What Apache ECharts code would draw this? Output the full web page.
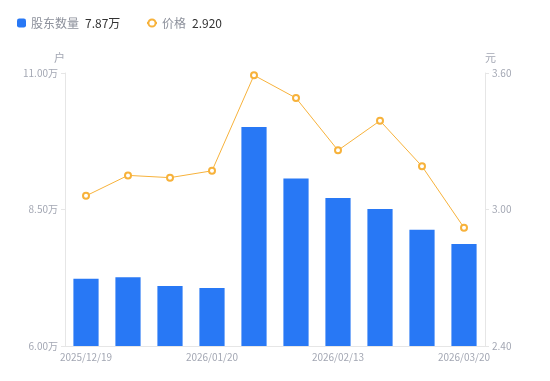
<!DOCTYPE html>
<html>
<head>
<meta charset="utf-8">
<script src="https://cdn.jsdelivr.net/npm/echarts@6/dist/echarts.min.js"></script>
<style>
html,body{margin:0;padding:0;background:#fff;}
#chart{width:550px;height:381px;}
</style>
</head>
<body>
<div id="chart"></div>
<script>
var categories = ['2025/12/19','2025/12/31','2026/01/09','2026/01/20','2026/01/30','2026/02/06','2026/02/13','2026/02/27','2026/03/10','2026/03/20'];
var holders = [7.23, 7.26, 7.10, 7.06, 10.01, 9.07, 8.71, 8.51, 8.13, 7.87];
var prices = [3.06, 3.15, 3.14, 3.17, 3.59, 3.49, 3.26, 3.39, 3.19, 2.92];
var leftTicks = [6.00, 8.50, 11.00];
var rightTicks = [2.40, 3.00, 3.60];

var FONT = '"Noto Sans CJK SC", "Noto Sans", sans-serif';
var chart = echarts.init(document.getElementById('chart'));
var axisLabelColor = '#a3a7b3';
var lineColor = '#e6e6e6';

chart.setOption({
  animation: false,
  textStyle: { fontFamily: FONT },
  legend: [{
    data: ['股东数量'],
    left: 17, top: 17, padding: 0,
    itemWidth: 9, itemHeight: 9,
    icon: 'roundRect',
    textStyle: {
      fontFamily: FONT,
      rich: {
        n: { color: '#8c909b', fontSize: 12, fontFamily: FONT },
        v: { color: '#333', fontSize: 12, fontFamily: FONT, padding: [0, 0, 0, 6] }
      }
    },
    formatter: function (name) { return '{n|' + name + '}{v|' + holders[holders.length - 1].toFixed(2) + '万}'; }
  }, {
    data: ['价格'],
    left: 146, top: 17, padding: 0,
    itemWidth: 10, itemHeight: 9,
    textStyle: {
      fontFamily: FONT,
      rich: {
        n: { color: '#8c909b', fontSize: 12, fontFamily: FONT },
        v: { color: '#333', fontSize: 12, fontFamily: FONT, padding: [0, 0, 0, 6] }
      }
    },
    formatter: function (name) { return '{n|' + name + '}{v|' + prices[prices.length - 1].toFixed(3) + '}'; }
  }],
  grid: { left: 65, right: 65, top: 73, bottom: 35, containLabel: false },
  xAxis: {
    type: 'category',
    data: categories,
    boundaryGap: true,
    axisLine: { lineStyle: { color: lineColor } },
    axisTick: { show: false },
    axisLabel: {
      color: axisLabelColor, fontSize: 10, margin: 6,
      interval: 2, fontFamily: FONT
    }
  },
  yAxis: [{
    type: 'value',
    name: '户',
    nameGap: 10,
    nameTextStyle: { color: axisLabelColor, fontSize: 11, align: 'right' },
    min: leftTicks[0], max: leftTicks[2], interval: leftTicks[1] - leftTicks[0],
    axisLine: { show: true, lineStyle: { color: lineColor } },
    axisTick: { show: true, length: 4, lineStyle: { color: lineColor } },
    splitLine: { show: false },
    axisLabel: {
      color: axisLabelColor, fontSize: 10, margin: 7, fontFamily: FONT,
      formatter: function (v) { return v.toFixed(2) + '万'; }
    }
  }, {
    type: 'value',
    name: '元',
    nameGap: 10,
    nameTextStyle: { color: axisLabelColor, fontSize: 11, align: 'left' },
    min: rightTicks[0], max: rightTicks[2], interval: rightTicks[1] - rightTicks[0],
    axisLine: { show: true, lineStyle: { color: lineColor } },
    axisTick: { show: true, length: 4, lineStyle: { color: lineColor } },
    splitLine: { show: false },
    axisLabel: {
      color: axisLabelColor, fontSize: 10, margin: 7, fontFamily: FONT,
      formatter: function (v) { return v.toFixed(2); }
    }
  }],
  series: [{
    name: '股东数量',
    type: 'bar',
    yAxisIndex: 0,
    barWidth: '60%',
    data: holders,
    itemStyle: { color: '#2878f5' }
  }, {
    name: '价格',
    type: 'line',
    yAxisIndex: 1,
    data: prices,
    symbol: 'emptyCircle',
    symbolSize: 6,
    lineStyle: { color: '#f7b23b', width: 1 },
    itemStyle: { color: '#f7b23b', borderWidth: 2 }
  }]
});
</script>
</body>
</html>
